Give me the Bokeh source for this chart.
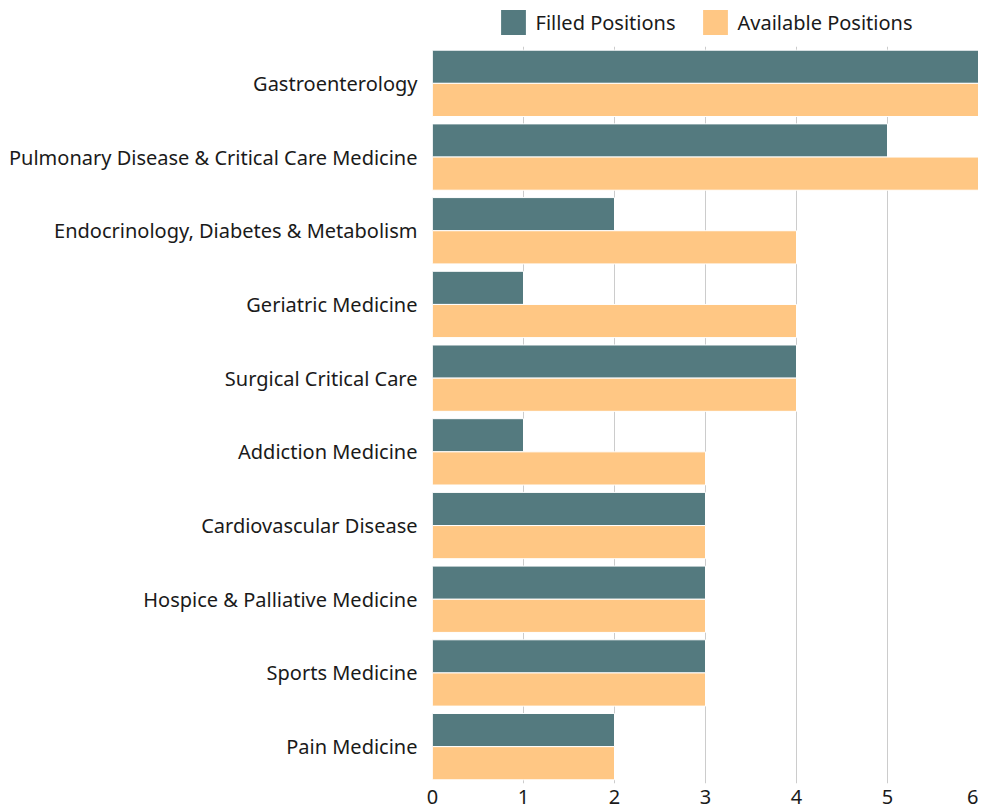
from bokeh.plotting import figure
from bokeh.layouts import column
from bokeh.models import ColumnDataSource, FactorRange, Range1d, Legend, LegendItem, FixedTicker
from bokeh.transform import dodge
from bokeh.embed import file_html
from bokeh.resources import INLINE

categories = [
    "Gastroenterology",
    "Pulmonary Disease & Critical Care Medicine",
    "Endocrinology, Diabetes & Metabolism",
    "Geriatric Medicine",
    "Surgical Critical Care",
    "Addiction Medicine",
    "Cardiovascular Disease",
    "Hospice & Palliative Medicine",
    "Sports Medicine",
    "Pain Medicine",
]
filled = [6, 5, 2, 1, 4, 1, 3, 3, 3, 2]
available = [6, 6, 4, 4, 4, 3, 3, 3, 3, 2]
x_ticks = [0, 1, 2, 3, 4, 5, 6]
series_names = ["Filled Positions", "Available Positions"]

FILLED_COLOR = "#547a7f"
AVAIL_COLOR = "#ffc784"
FONT = "Noto Sans"
TEXT_COLOR = "#1a1a1a"

source = ColumnDataSource(dict(cat=categories, filled=filled, available=available))

# ---- main chart ----
p = figure(
    width=978, height=762,
    y_range=FactorRange(factors=categories[::-1], range_padding=0),
    x_range=Range1d(0, 6),
    output_backend="svg", toolbar_location=None,
    min_border_left=432, min_border_right=0, min_border_top=2, min_border_bottom=0,
)
p.outline_line_color = None

p.hbar(y=dodge("cat", 0.225, range=p.y_range), right="filled", left=0, height=0.45,
       source=source, fill_color=FILLED_COLOR, line_color="white", line_width=1)
p.hbar(y=dodge("cat", -0.225, range=p.y_range), right="available", left=0, height=0.45,
       source=source, fill_color=AVAIL_COLOR, line_color="white", line_width=1)

p.ygrid.grid_line_color = None
p.xgrid.grid_line_color = "#cccccc"
p.xgrid.grid_line_width = 1
p.xaxis.ticker = FixedTicker(ticks=x_ticks)

for ax in (p.xaxis[0], p.yaxis[0]):
    ax.axis_line_color = None
    ax.major_tick_line_color = None
    ax.minor_tick_line_color = None
    ax.major_label_text_font = FONT
    ax.major_label_text_font_size = "20px"
    ax.major_label_text_color = TEXT_COLOR
p.yaxis.major_label_standoff = 9
p.xaxis.major_label_standoff = 0

# ---- legend strip (its bars lie outside its visible x range; only the legend shows) ----
lf = figure(
    width=978, height=44,
    y_range=FactorRange(factors=categories[::-1]), x_range=Range1d(-2, -1),
    x_axis_type=None, y_axis_type=None,
    output_backend="svg", toolbar_location=None,
    min_border_left=432, min_border_right=0, min_border_top=0, min_border_bottom=0,
)
lf.outline_line_color = None
lf.grid.grid_line_color = None
lr1 = lf.hbar(y="cat", right="filled", left=0, height=0.45, source=source,
              fill_color=FILLED_COLOR, line_color=None)
lr2 = lf.hbar(y="cat", right="available", left=0, height=0.45, source=source,
              fill_color=AVAIL_COLOR, line_color=None)

legend = Legend(items=[LegendItem(label=series_names[0], renderers=[lr1]),
                       LegendItem(label=series_names[1], renderers=[lr2])],
                orientation="horizontal", location="center")
legend.label_text_font = FONT
legend.label_text_font_size = "20px"
legend.label_text_color = TEXT_COLOR
legend.glyph_width = 31
legend.glyph_height = 31
legend.spacing = 24
legend.padding = 1
legend.margin = 0
legend.border_line_color = None
legend.background_fill_alpha = 0
legend.label_standoff = 7
lf.add_layout(legend, "center")

layout = column(lf, p, spacing=0)
open("out.html", "w").write(file_html(layout, INLINE))
